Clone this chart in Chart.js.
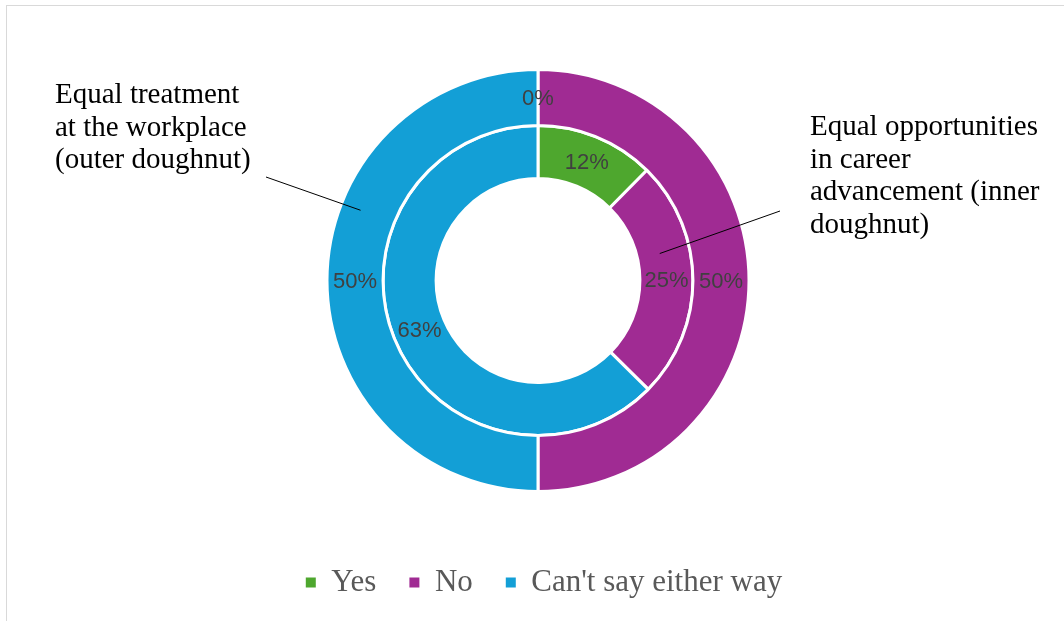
<!DOCTYPE html>
<html>
<head>
<meta charset="utf-8">
<script src="https://cdn.jsdelivr.net/npm/chart.js@4.4.1/dist/chart.umd.min.js"></script>
<style>
  html, body { margin: 0; padding: 0; background: #fff; }
  #wrap { position: relative; width: 1064px; height: 621px; overflow: hidden; }
  #frame { position: absolute; left: 6px; top: 5px; width: 1100px; height: 700px;
           border-left: 1px solid #d9d9d9; border-top: 1px solid #d9d9d9; pointer-events: none; }
  canvas { position: absolute; left: 0; top: 0; }
</style>
</head>
<body>
<div id="wrap">
  <div id="frame"></div>
  <canvas id="chart" width="1064" height="621"></canvas>
</div>
<script>
// categories + ring values (percent)
const categories = ['Yes', 'No', "Can't say either way"];
const colors = ['#4ea72e', '#a02b93', '#139fd6'];
const workplaceValues = [0, 50, 50];      // outer doughnut
const careerValues = [12.4, 25, 62.6];    // inner doughnut

const SERIF = '"Liberation Serif", "Times New Roman", serif';
const SANS = '"Liberation Sans", Arial, sans-serif';

// callout text + where the leader line touches the ring (angle clockwise from top, depth in ring)
const callouts = [
  { ring: 0, lines: ['Equal treatment', 'at the workplace', '(outer doughnut)'],
    x: 55, y: 103, from: [266, 177], angle: 291.6, depth: 0.64 },
  { ring: 1, lines: ['Equal opportunities', 'in career', 'advancement (inner', 'doughnut)'],
    x: 810, y: 135, from: [780, 211], angle: 77.5, depth: 0.43 },
];

const pctLabels = {
  id: 'pctLabels',
  afterDatasetsDraw(chart) {
    const ctx = chart.ctx;
    ctx.save();
    ctx.font = '22px ' + SANS;
    ctx.fillStyle = '#404040';
    ctx.textAlign = 'center';
    ctx.textBaseline = 'middle';
    chart.data.datasets.forEach((ds, i) => {
      chart.getDatasetMeta(i).data.forEach((arc, j) => {
        const p = arc.tooltipPosition();
        ctx.fillText(Math.round(ds.data[j]) + '%', p.x, p.y + 1);
      });
    });
    ctx.restore();
  }
};

const calloutPlugin = {
  id: 'callouts',
  afterDraw(chart) {
    const ctx = chart.ctx;
    ctx.save();
    ctx.font = '29px ' + SERIF;
    ctx.fillStyle = '#000';
    ctx.textAlign = 'left';
    ctx.textBaseline = 'alphabetic';
    callouts.forEach(c => {
      c.lines.forEach((t, k) => ctx.fillText(t, c.x, c.y + k * 32.5));
      const arc = chart.getDatasetMeta(c.ring).data[0];
      const r = arc.innerRadius + c.depth * (arc.outerRadius - arc.innerRadius);
      const a = (c.angle - 90) * Math.PI / 180;
      ctx.beginPath();
      ctx.strokeStyle = '#000';
      ctx.lineWidth = 1;
      ctx.moveTo(c.from[0], c.from[1]);
      ctx.lineTo(arc.x + r * Math.cos(a), arc.y + r * Math.sin(a));
      ctx.stroke();
    });
    ctx.restore();
  }
};

// legend sits a little right of the doughnut centre in the original
const legendNudge = {
  id: 'legendNudge',
  afterLayout(chart) {
    const lg = chart.legend;
    if (!lg) return;
    lg.left += 6; lg.right += 6;
  }
};

new Chart(document.getElementById('chart'), {
  type: 'doughnut',
  data: {
    labels: categories,
    datasets: [
      { label: 'Equal treatment at the workplace', data: workplaceValues, backgroundColor: colors,
        borderColor: '#fff', borderWidth: 3, weight: 56, hoverOffset: 0 },
      { label: 'Equal opportunities in career advancement', data: careerValues, backgroundColor: colors,
        borderColor: '#fff', borderWidth: 3, weight: 53, hoverOffset: 0 },
    ],
  },
  options: {
    responsive: false,
    animation: false,
    radius: 211,
    cutout: '48.3%',
    layout: { padding: { left: 12, right: 0, top: 27, bottom: 13 } },
    plugins: {
      tooltip: { enabled: false },
      legend: {
        position: 'bottom',
        labels: {
          font: { family: SERIF, size: 31 },
          color: '#595959',
          boxWidth: 10,
          boxHeight: 10,
          padding: 33,
          generateLabels(chart) {
            const items = Chart.overrides.doughnut.plugins.legend.labels.generateLabels(chart);
            return items.map(it => ({ ...it, lineWidth: 0, strokeStyle: 'rgba(0,0,0,0)' }));
          },
        },
      },
    },
  },
  plugins: [pctLabels, calloutPlugin, legendNudge],
});
</script>
</body>
</html>
